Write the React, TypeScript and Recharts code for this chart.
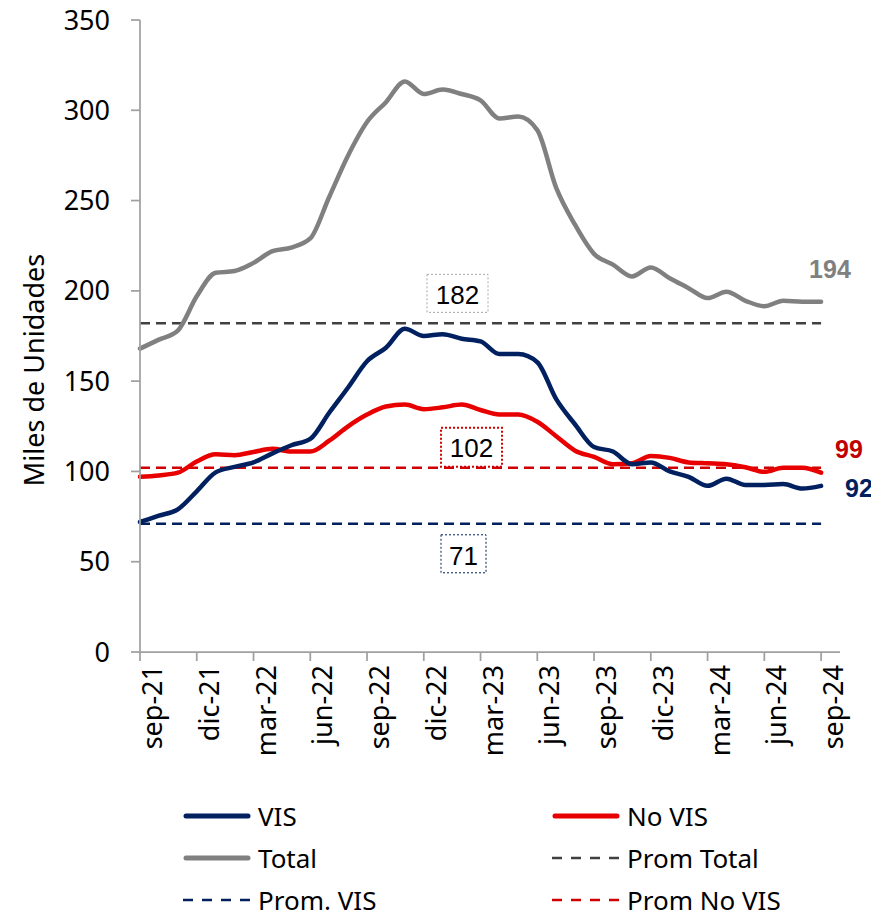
import { LineChart, Line, XAxis, YAxis, ReferenceLine, LabelList } from 'recharts';

// meses de la serie (sep-21 a sep-24)
const meses = [
  'sep-21', 'oct-21', 'nov-21', 'dic-21', 'ene-22', 'feb-22', 'mar-22', 'abr-22', 'may-22', 'jun-22',
  'jul-22', 'ago-22', 'sep-22', 'oct-22', 'nov-22', 'dic-22', 'ene-23', 'feb-23', 'mar-23', 'abr-23',
  'may-23', 'jun-23', 'jul-23', 'ago-23', 'sep-23', 'oct-23', 'nov-23', 'dic-23', 'ene-24', 'feb-24',
  'mar-24', 'abr-24', 'may-24', 'jun-24', 'jul-24', 'ago-24', 'sep-24',
];

// miles de unidades
const vis = [
  72, 75.5, 79, 89, 99.5, 102.5, 105, 110, 114.5, 118,
  132.5, 146.5, 161, 168.5, 179, 175, 176, 173.5, 172, 165,
  165, 160.5, 140, 126, 113.5, 111, 104, 105, 100, 97,
  92, 96, 92.5, 92.5, 93, 90.5, 92,
];
const noVis = [
  97, 97.8, 99.3, 105.5, 109.5, 109, 110.8, 112.5, 111, 111,
  117, 125, 131.5, 136, 137, 134.5, 135.5, 137, 134, 131.5,
  131.5, 127.5, 119.5, 111.5, 108, 104, 104.5, 108.5, 107.5, 105,
  104.5, 104, 102.3, 99.8, 102, 102, 99.3,
];
const total = [
  168, 173, 178, 197, 210, 211, 215.5, 222, 224, 229,
  252, 275, 293.5, 304.5, 316, 309, 311.5, 309, 305.5, 295.5,
  296.5, 289, 257, 236.5, 220.5, 214.5, 208, 213, 207, 201.5,
  196, 199.5, 194.5, 191.5, 194.5, 194, 194,
];

const promTotal = 182;
const promVis = 71;
const promNoVis = 102;

const yTicks = [0, 50, 100, 150, 200, 250, 300, 350];
const xTicks = [0, 3, 6, 9, 12, 15, 18, 21, 24, 27, 30, 33, 36];

const data = meses.map((mes, i) => ({ i, mes, vis: vis[i], noVis: noVis[i], total: total[i] }));

const NAVY = '#002060';
const RED = '#E80000';
const GRAY = '#808080';
const AXIS = '#A0A0A0';
const FONT = '"Noto Sans", "Open Sans", sans-serif';
const ARIAL = '"Liberation Sans", Arial, sans-serif';

const XTick = (props: any) => {
  const { x, y, payload } = props;
  return (
    <text
      x={x}
      y={y}
      transform={`rotate(-90, ${x}, ${y})`}
      textAnchor="end"
      dy={22}
      fontSize={27}
      fontFamily={FONT}
      fill="#000"
    >
      {meses[payload.value]}
    </text>
  );
};

const endLabel = (color: string, dx: number, dy: number) => (props: any) => {
  const { x, y, index, value } = props;
  if (index !== data.length - 1) return null;
  return (
    <text x={x + dx} y={y + dy} fill={color} fontSize={25} fontWeight="bold" fontFamily={ARIAL}>
      {Math.round(value)}
    </text>
  );
};

const avgBox = (value: number, stroke: string, sw: number, dx: number, top: number, w: number, h: number, textDy: number) =>
  (props: any) => {
    const { x, y } = props.viewBox;
    return (
      <g>
        <rect x={x + dx} y={y + top} width={w} height={h} fill="none" stroke={stroke} strokeWidth={sw} strokeDasharray="2 2" />
        <text x={x + dx + w / 2} y={y + textDy} textAnchor="middle" fontSize={26} fontFamily={ARIAL} fill="#000">
          {value}
        </text>
      </g>
    );
  };

const legend = [
  { name: 'VIS', color: NAVY, dashed: false, left: 183, row: 0 },
  { name: 'No VIS', color: RED, dashed: false, left: 552, row: 0 },
  { name: 'Total', color: GRAY, dashed: false, left: 183, row: 1 },
  { name: 'Prom Total', color: '#404040', dashed: true, left: 552, row: 1 },
  { name: 'Prom. VIS', color: NAVY, dashed: true, left: 183, row: 2 },
  { name: 'Prom No VIS', color: '#D00000', dashed: true, left: 552, row: 2 },
];

export default function App() {
  return (
    <div style={{ position: 'relative', width: 871, height: 909 }}>
      <div style={{ position: 'relative', top: -8 }}>
        <LineChart width={871} height={770} data={data} margin={{ top: 20, right: 39, left: 0, bottom: 0 }}>
          <XAxis
            dataKey="i"
            type="number"
            domain={[0, 37]}
            ticks={xTicks}
            interval={0}
            height={118}
            tickSize={9}
            tickMargin={4}
            stroke={AXIS}
            strokeWidth={1.75}
            tick={<XTick />}
          />
          <YAxis
            domain={[0, 350]}
            ticks={yTicks}
            width={132}
            tickSize={9}
            tickMargin={21}
            stroke={AXIS}
            strokeWidth={1.75}
            tick={{ fill: '#000', fontSize: 27, fontFamily: FONT }}
            label={() => (
              <text
                x={36}
                y={370}
                transform="rotate(-90, 36, 370)"
                textAnchor="middle"
                fontSize={27}
                fontFamily={FONT}
                fill="#000"
              >
                Miles de Unidades
              </text>
            )}
          />
          <ReferenceLine
            segment={[{ x: 0, y: promTotal }, { x: 36, y: promTotal }]}
            stroke="#404040"
            strokeWidth={2.5}
            strokeDasharray="10 6"
            label={avgBox(promTotal, '#A6A6A6', 1, 287, -49, 61, 38, -19)}
          />
          <ReferenceLine
            segment={[{ x: 0, y: promNoVis }, { x: 36, y: promNoVis }]}
            stroke="#D00000"
            strokeWidth={2.5}
            strokeDasharray="10 6"
            label={avgBox(promNoVis, '#D00000', 2, 301, -40, 61, 39, -11)}
          />
          <ReferenceLine
            segment={[{ x: 0, y: promVis }, { x: 36, y: promVis }]}
            stroke={NAVY}
            strokeWidth={2.5}
            strokeDasharray="10 6"
            label={avgBox(promVis, NAVY, 1, 301, 11, 45, 38, 41)}
          />
          <Line type="monotone" dataKey="total" stroke={GRAY} strokeWidth={4.5} strokeLinecap="round" dot={false} isAnimationActive={false}>
            <LabelList dataKey="total" content={endLabel(GRAY, -12, -24)} />
          </Line>
          <Line type="monotone" dataKey="noVis" stroke={RED} strokeWidth={4.5} strokeLinecap="round" dot={false} isAnimationActive={false}>
            <LabelList dataKey="noVis" content={endLabel('#C00000', 14, -15)} />
          </Line>
          <Line type="monotone" dataKey="vis" stroke={NAVY} strokeWidth={4.5} strokeLinecap="round" dot={false} isAnimationActive={false}>
            <LabelList dataKey="vis" content={endLabel(NAVY, 24, 11)} />
          </Line>
        </LineChart>
      </div>
      {legend.map((it) => (
        <div
          key={it.name}
          style={{
            position: 'absolute',
            left: it.left - 8,
            top: 808 + it.row * 42 - 13,
            height: 26,
            display: 'flex',
            alignItems: 'center',
            fontFamily: FONT,
            fontSize: 26,
            lineHeight: '26px',
            color: '#000',
            whiteSpace: 'nowrap',
          }}
        >
          <svg width={68} height={10} style={{ display: 'block' }}>
            {it.dashed ? (
              <line x1={0} y1={5} x2={68} y2={5} stroke={it.color} strokeWidth={2.5} strokeDasharray="10 9" />
            ) : (
              <line x1={3} y1={5} x2={65} y2={5} stroke={it.color} strokeWidth={5} strokeLinecap="round" />
            )}
          </svg>
          <span style={{ marginLeft: 7, display: 'block', height: 26, lineHeight: '26px' }}>{it.name}</span>
        </div>
      ))}
    </div>
  );
}
